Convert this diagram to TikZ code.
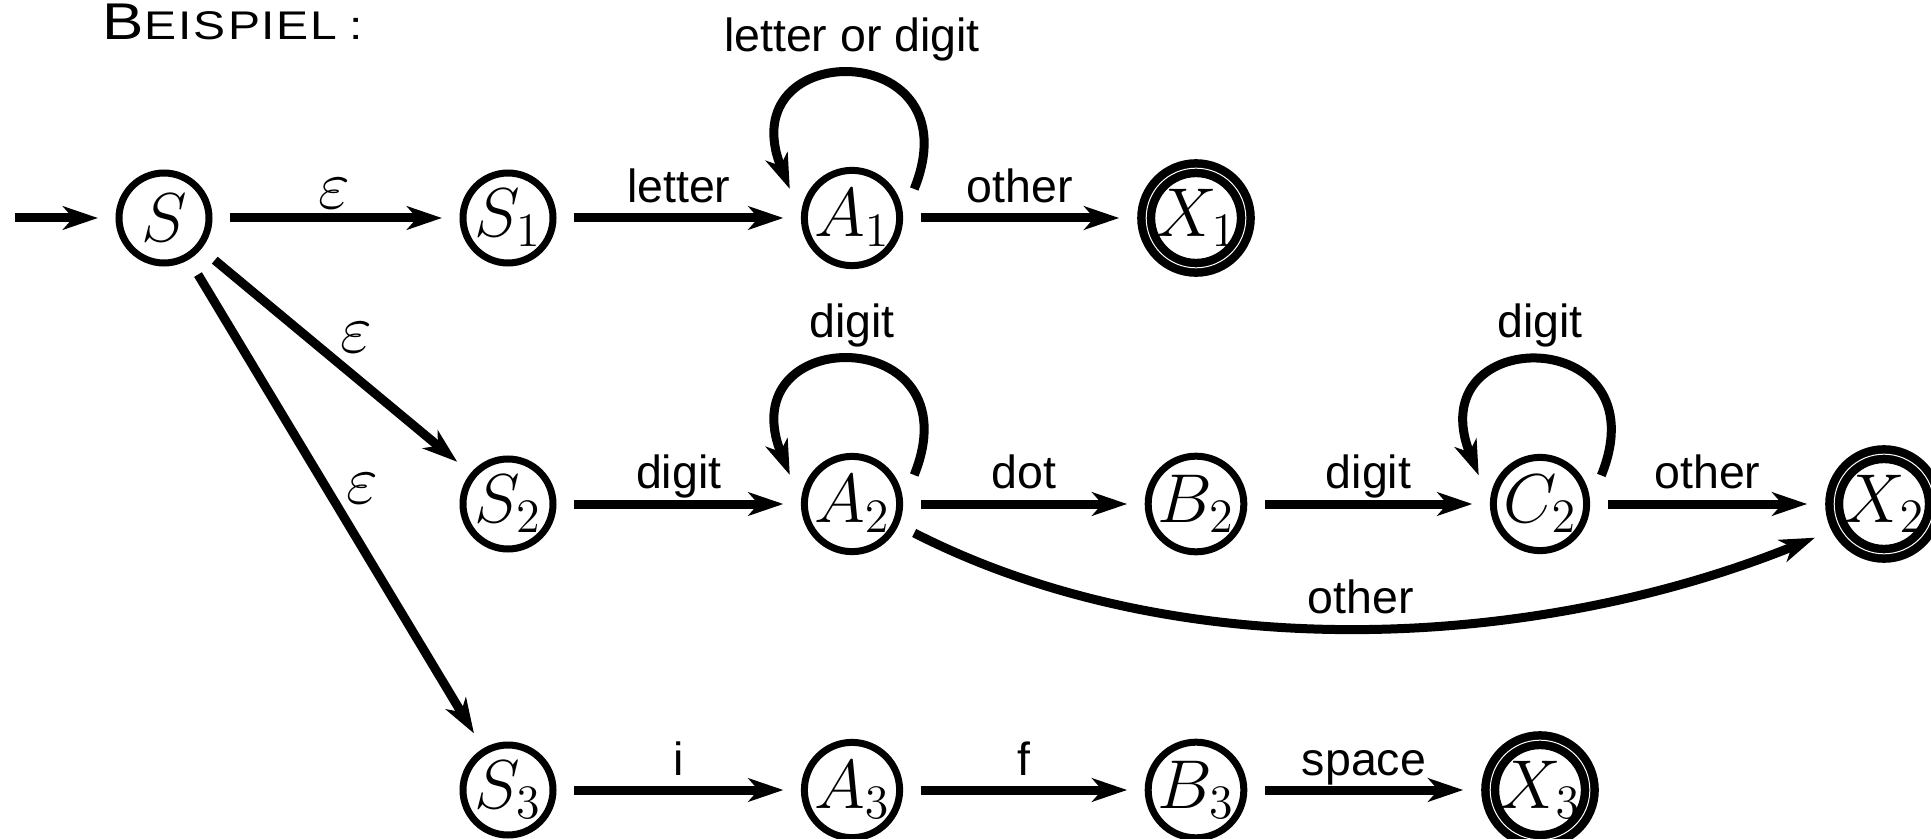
\documentclass[tikz,border=0pt]{standalone}
\usepackage{fontspec}
\setmainfont{Liberation Sans}
\newfontfamily\titlefont{Liberation Sans}[FakeStretch=1.2]
\usetikzlibrary{arrows.meta}
\begin{document}
\begin{tikzpicture}[x=0.3pt,y=0.3pt,
  stnode/.style={circle, draw, line width=2.1pt, minimum size=27pt, inner sep=0pt, outer sep=6.3pt, font=\fontsize{20.74}{24}\selectfont},
  accnode/.style={circle, draw, line width=2.55pt, double, double distance=0.3pt, minimum size=28.2pt, inner sep=0pt, outer sep=8.1pt, font=\fontsize{20.74}{24}\selectfont},
  trans/.style={line width=2.7pt, -{Stealth[length=10.5pt,width=7pt,inset=3pt]}},
  lbl/.style={font=\fontsize{13.95}{16}\selectfont, anchor=base, inner sep=0pt, yshift=4.5pt},
  looplbl/.style={font=\fontsize{13.95}{16}\selectfont, anchor=base, inner sep=0pt, yshift=6.9pt},
  epslbl/.style={font=\fontsize{20.74}{24}\selectfont, inner sep=0pt},
]
\useasboundingbox (0,0) rectangle (1931,-839);

\node[anchor=base west, inner sep=0pt, font=\titlefont] (title) at (101.5,-40)
  {{\fontsize{15.5}{18}\selectfont B}\kern0.4pt{\fontsize{12}{14}\selectfont E\kern0.5pt I\kern0.5pt S\kern0.8pt P\kern0.5pt I\kern0.5pt E\kern0.6pt L\kern3.5pt:}};

\node[stnode] (S) at (164,-218) {$S$};
\node[stnode] (S1) at (508,-218) {$S_1$};
\node[stnode] (A1) at (852,-218) {$A_1$};
\node[accnode] (X1) at (1196,-218) {$X_1$};
\node[stnode] (S2) at (508,-504) {$S_2$};
\node[stnode] (A2) at (852,-504) {$A_2$};
\node[stnode] (B2) at (1196,-504) {$B_2$};
\node[stnode] (C2) at (1540,-504) {$C_2$};
\node[accnode] (X2) at (1884,-504) {$X_2$};
\node[stnode] (S3) at (508,-790) {$S_3$};
\node[stnode] (A3) at (852,-790) {$A_3$};
\node[stnode] (B3) at (1196,-790) {$B_3$};
\node[accnode] (X3) at (1540,-790) {$X_3$};
\coordinate (start0) at (15,-218);

\draw[trans] (start0) -- (S);
\draw[trans] (S) -- (S1) node[epslbl, midway, xshift=-0.6pt, yshift=7.2pt] {$\varepsilon$};
\draw[trans] (S) -- (S2) node[epslbl, midway, xshift=6.15pt, yshift=7.05pt] {$\varepsilon$};
\draw[trans] (S) -- (S3) node[epslbl, midway, xshift=7.95pt, yshift=4.5pt] {$\varepsilon$};

\draw[trans] (S1) -- (A1) node[lbl, midway] {letter};
\draw[trans] (A1.25) .. controls +(68:165) and +(112:165) .. (A1.155) node[looplbl, pos=0.5] {letter or digit};
\draw[trans] (A1) -- (X1) node[lbl, midway] {other};

\draw[trans] (S2) -- (A2) node[lbl, midway] {digit};
\draw[trans] (A2.25) .. controls +(68:165) and +(112:165) .. (A2.155) node[looplbl, pos=0.5] {digit};
\draw[trans] (A2) -- (B2) node[lbl, midway] {dot};
\draw[trans] (B2) -- (C2) node[lbl, midway] {digit};
\draw[trans] (C2.25) .. controls +(68:165) and +(112:165) .. (C2.155) node[looplbl, pos=0.5] {digit};
\draw[trans] (C2) -- (X2) node[lbl, midway] {other};
\draw[trans] (A2.-25) .. controls +(-27:300) and +(-158:300) .. (X2.-154) node[lbl, pos=0.5] {other};

\draw[trans] (S3) -- (A3) node[lbl, midway] {i};
\draw[trans] (A3) -- (B3) node[lbl, midway] {f};
\draw[trans] (B3) -- (X3) node[lbl, midway] {space};
\end{tikzpicture}
\end{document}
